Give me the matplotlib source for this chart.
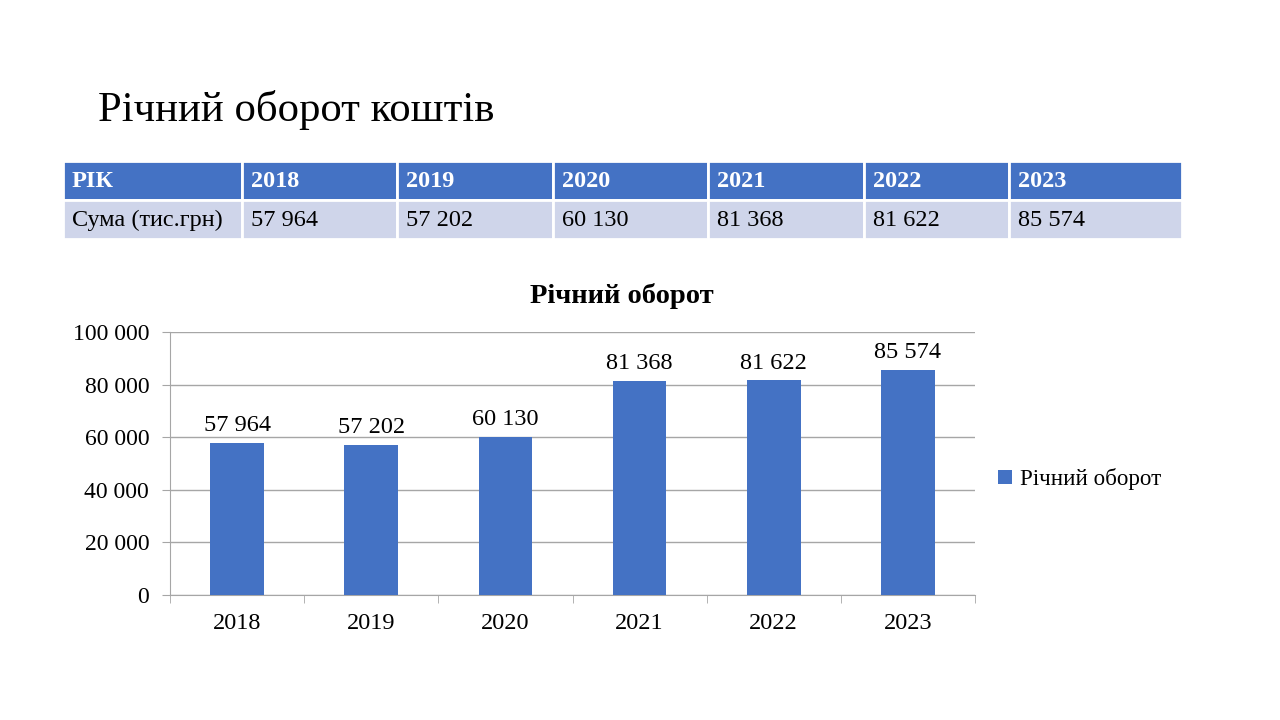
import matplotlib.pyplot as plt
from matplotlib.patches import Rectangle

plt.rcParams['font.family'] = ['Liberation Serif', 'DejaVu Serif']

years = ['2018', '2019', '2020', '2021', '2022', '2023']
turnover = [57964, 57202, 60130, 81368, 81622, 85574]
header_first = 'РІК'
row_first = 'Сума (тис.грн)'
slide_title = 'Річний оборот коштів'
chart_title = 'Річний оборот'
series_name = 'Річний оборот'

BLUE = '#4472C4'
LIGHT = '#CFD5EA'
GRID = '#A6A6A6'
FS = 17.5


def fmt(v):
    return f'{v:,.0f}'.replace(',', ' ')


fig = plt.figure(figsize=(12.8, 7.2), dpi=100)

# slide layer in pixel coordinates
bg = fig.add_axes([0, 0, 1, 1])
bg.set_xlim(0, 1280)
bg.set_ylim(720, 0)
bg.axis('off')

bg.text(98, 110, slide_title, fontsize=30.8, va='center', ha='left')

# table
col_edges = [63, 242, 397, 553, 708, 864, 1009, 1182]
row_top = [161, 200]
row_h = 39
header = [header_first] + years
values = [row_first] + [fmt(v) for v in turnover]
for r, (cells, color) in enumerate([(header, BLUE), (values, LIGHT)]):
    for c, txt in enumerate(cells):
        x0, x1 = col_edges[c], col_edges[c + 1]
        bg.add_patch(Rectangle((x0, row_top[r]), x1 - x0, row_h,
                               facecolor=color, edgecolor='white', lw=2))
        bg.text(x0 + 9, row_top[r] + row_h / 2 + 1, txt, fontsize=FS,
                va='center', ha='left',
                color='white' if r == 0 else 'black',
                fontweight='bold' if r == 0 else 'normal')

# chart
ax = fig.add_axes([170 / 1280, 1 - 595 / 720, 805 / 1280, 263 / 720])
x = range(len(years))
bars = ax.bar(x, turnover, width=0.4, color=BLUE, label=series_name, zorder=3)
for b, v in zip(bars, turnover):
    ax.text(b.get_x() + b.get_width() / 2, v + 2500, fmt(v),
            ha='center', va='bottom', fontsize=FS)

ax.set_xlim(-0.5, len(years) - 0.5)
ax.set_ylim(0, 100000)
ax.set_yticks(range(0, 100001, 20000))
ax.set_yticklabels([fmt(v) for v in range(0, 100001, 20000)], fontsize=17)
ax.set_xticks(list(x))
ax.set_xticklabels(years, fontsize=FS)
ax.set_xticks([i - 0.5 for i in range(len(years) + 1)], minor=True)
ax.tick_params(axis='x', which='major', length=0, pad=13)
ax.tick_params(axis='x', which='minor', length=6, color=GRID)
ax.tick_params(axis='y', length=6, color=GRID, pad=9)
ax.grid(axis='y', color=GRID, lw=1, zorder=0)
for s in ['top', 'right']:
    ax.spines[s].set_visible(False)
ax.spines['left'].set_color(GRID)
ax.spines['bottom'].set_color(GRID)

fig.text(622 / 1280, 1 - 296 / 720, chart_title, fontsize=20.5,
         fontweight='bold', ha='center', va='center')

ax.legend(loc='center left', bbox_to_anchor=(1.003, 0.44), frameon=False,
          fontsize=16.6, handlelength=0.6, handleheight=0.6, handletextpad=0.35)

fig.savefig('out.png', dpi=100)
